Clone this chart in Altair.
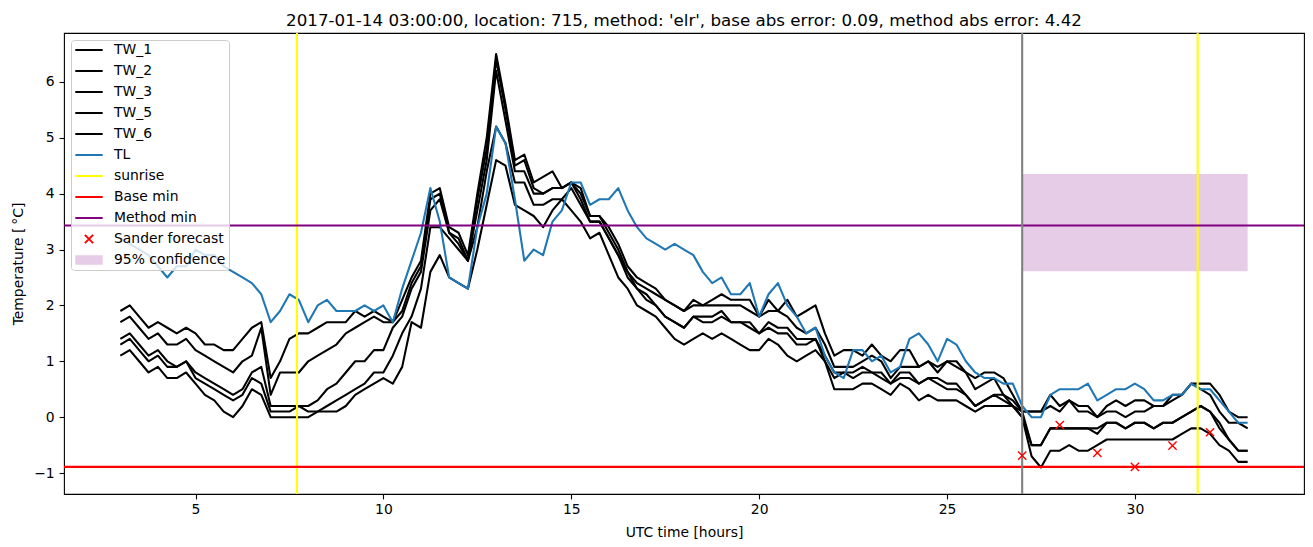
import altair as alt
import numpy as np
import pandas as pd

# ---------------- data ----------------
hours = [round(3.0 + 0.25 * i, 2) for i in range(121)]  # 3.00 ... 33.00 h, sampling grid

TW_1 = [1.9, 2.0, 1.8, 1.6, 1.7, 1.6, 1.5, 1.6, 1.5, 1.3, 1.3, 1.2,
        1.2, 1.4, 1.6, 1.7, 0.7, 1.0, 1.4, 1.5, 1.5, 1.6, 1.7, 1.7,
        1.7, 1.9, 1.8, 1.9, 1.8, 1.7, 2.1, 2.5, 2.8, 4.0, 4.1, 3.4,
        3.3, 2.9, 4.0, 5.0, 6.5, 5.6, 4.6, 4.7, 4.2, 4.3, 4.4, 4.1,
        4.2, 4.1, 3.6, 3.6, 3.4, 3.1, 2.7, 2.5, 2.4, 2.3, 2.1, 2.0,
        1.9, 2.1, 2.0, 2.1, 2.2, 2.1, 2.1, 2.1, 1.8, 2.1, 1.9, 2.1,
        1.8, 1.9, 2.0, 1.5, 1.1, 1.2, 1.2, 1.1, 1.3, 1.1, 1.0, 1.2,
        1.2, 0.9, 1.0, 0.9, 1.0, 1.0, 0.8, 0.7, 0.8, 0.8, 0.7, 0.4,
        0.1, 0.1, 0.1, 0.4, 0.2, 0.3, 0.2, 0.2, 0.0, 0.2, 0.3, 0.2,
        0.3, 0.3, 0.2, 0.2, 0.4, 0.4, 0.6, 0.6, 0.6, 0.4, 0.1, 0.0,
        0.0]
TW_2 = [1.7, 1.8, 1.6, 1.4, 1.5, 1.3, 1.3, 1.4, 1.2, 1.1, 1.0, 0.9,
        0.8, 1.0, 1.1, 1.6, 0.4, 0.8, 0.8, 0.8, 1.0, 1.1, 1.2, 1.3,
        1.5, 1.6, 1.7, 1.8, 1.7, 1.7, 1.9, 2.4, 2.7, 3.9, 4.0, 3.3,
        3.2, 2.8, 3.9, 4.8, 6.4, 5.5, 4.5, 4.6, 4.1, 4.0, 4.1, 4.1,
        4.2, 4.0, 3.6, 3.6, 3.3, 3.0, 2.6, 2.4, 2.3, 2.2, 2.1, 2.0,
        1.9, 2.0, 2.0, 2.0, 2.0, 2.0, 2.0, 1.9, 1.8, 1.9, 1.9, 1.8,
        1.6, 1.5, 1.6, 1.3, 0.9, 0.9, 0.9, 1.0, 1.1, 1.0, 0.7, 0.9,
        0.9, 0.9, 1.0, 0.8, 1.0, 0.9, 0.8, 0.5, 0.6, 0.7, 0.4, 0.3,
        0.1, 0.1, 0.1, 0.2, 0.1, 0.3, 0.1, 0.1, 0.0, 0.1, 0.1, 0.0,
        0.1, 0.1, 0.2, 0.2, 0.3, 0.4, 0.6, 0.5, 0.4, 0.1, -0.1, -0.1,
        -0.2]
TW_3 = [1.4, 1.5, 1.3, 1.1, 1.2, 1.0, 0.9, 1.0, 0.8, 0.7, 0.6, 0.5,
        0.4, 0.5, 0.8, 0.9, 0.2, 0.2, 0.2, 0.2, 0.2, 0.3, 0.5, 0.6,
        0.8, 1.0, 1.0, 1.2, 1.2, 1.6, 1.8, 2.3, 2.6, 3.7, 3.9, 3.3,
        3.1, 2.8, 3.7, 4.6, 6.2, 5.3, 4.4, 4.4, 4.0, 4.0, 4.1, 4.1,
        4.2, 3.9, 3.5, 3.5, 3.2, 2.9, 2.6, 2.3, 2.2, 2.0, 1.8, 1.7,
        1.6, 1.8, 1.8, 1.8, 1.9, 1.7, 1.7, 1.7, 1.5, 1.7, 1.6, 1.6,
        1.4, 1.4, 1.4, 1.1, 0.8, 0.8, 0.8, 0.9, 0.8, 0.8, 0.6, 0.8,
        0.8, 0.6, 0.7, 0.7, 0.6, 0.6, 0.4, 0.2, 0.3, 0.4, 0.4, 0.2,
        0.1, -0.5, -0.5, -0.2, -0.2, -0.2, -0.2, -0.2, -0.2, -0.1, -0.1, -0.2,
        -0.1, -0.1, -0.2, -0.1, -0.1, 0.0, 0.1, 0.2, 0.1, -0.1, -0.4, -0.6,
        -0.6]
TW_5 = [1.3, 1.4, 1.2, 1.0, 1.1, 0.9, 0.9, 1.0, 0.7, 0.6, 0.5, 0.4,
        0.3, 0.4, 0.7, 0.6, 0.1, 0.1, 0.1, 0.2, 0.1, 0.1, 0.2, 0.3,
        0.4, 0.5, 0.6, 0.8, 0.8, 1.1, 1.5, 1.8, 2.3, 3.4, 3.4, 3.2,
        3.0, 2.8, 3.4, 4.4, 5.2, 4.9, 4.2, 4.2, 3.8, 3.8, 3.9, 3.9,
        4.1, 3.8, 3.5, 3.5, 3.2, 2.9, 2.5, 2.3, 2.1, 2.0, 1.8, 1.7,
        1.6, 1.8, 1.7, 1.7, 1.8, 1.7, 1.7, 1.6, 1.5, 1.6, 1.5, 1.5,
        1.3, 1.3, 1.4, 1.0, 0.7, 0.8, 0.7, 0.8, 0.8, 0.7, 0.6, 0.7,
        0.7, 0.6, 0.7, 0.6, 0.5, 0.5, 0.4, 0.2, 0.3, 0.4, 0.3, 0.2,
        0.0, -0.5, -0.5, -0.2, -0.2, -0.2, -0.2, -0.2, -0.3, -0.1, -0.1, -0.2,
        -0.1, -0.1, -0.2, -0.1, -0.1, 0.0, 0.1, 0.2, 0.1, -0.2, -0.4, -0.6,
        -0.6]
TW_6 = [1.1, 1.2, 1.0, 0.8, 0.9, 0.7, 0.7, 0.8, 0.6, 0.4, 0.3, 0.1,
        0.0, 0.2, 0.5, 0.4, 0.0, 0.0, 0.0, 0.0, 0.0, 0.1, 0.1, 0.1,
        0.2, 0.4, 0.5, 0.6, 0.7, 0.6, 0.9, 1.7, 1.6, 2.6, 2.9, 2.5,
        2.4, 2.3, 3.0, 3.8, 4.6, 4.5, 3.8, 3.7, 3.6, 3.4, 3.7, 3.9,
        3.7, 3.5, 3.2, 3.3, 2.9, 2.5, 2.3, 2.0, 1.9, 1.8, 1.6, 1.4,
        1.3, 1.4, 1.5, 1.4, 1.5, 1.4, 1.3, 1.2, 1.2, 1.4, 1.3, 1.1,
        1.0, 1.1, 1.2, 1.0, 0.5, 0.5, 0.5, 0.6, 0.6, 0.5, 0.4, 0.6,
        0.5, 0.3, 0.4, 0.3, 0.3, 0.3, 0.2, 0.1, 0.2, 0.2, 0.2, 0.2,
        0.0, -0.7, -0.9, -0.6, -0.6, -0.5, -0.6, -0.6, -0.5, -0.4, -0.4, -0.4,
        -0.4, -0.4, -0.4, -0.4, -0.4, -0.3, -0.2, -0.2, -0.3, -0.5, -0.6, -0.8,
        -0.8]
TL = [3.2, 3.1, 3.0, 2.9, 2.7, 2.5, 2.7, 2.7, 3.0, 2.9, 2.9, 2.7,
      2.6, 2.5, 2.4, 2.2, 1.7, 1.9, 2.2, 2.1, 1.7, 2.0, 2.1, 1.9,
      1.9, 1.9, 2.0, 1.9, 2.0, 1.7, 2.3, 2.8, 3.3, 4.1, 3.5, 2.5,
      2.4, 2.3, 3.4, 4.0, 5.2, 4.9, 3.9, 2.8, 3.0, 2.9, 3.5, 3.7,
      4.2, 4.2, 3.8, 3.9, 3.9, 4.1, 3.7, 3.4, 3.2, 3.1, 3.0, 3.1,
      3.0, 2.9, 2.6, 2.4, 2.5, 2.2, 2.2, 2.4, 1.8, 2.2, 2.4, 2.0,
      1.8, 1.5, 1.6, 1.1, 0.8, 0.7, 1.2, 1.2, 1.0, 1.1, 0.8, 0.9,
      1.4, 1.5, 1.3, 1.0, 1.4, 1.3, 1.0, 0.8, 0.7, 0.7, 0.6, 0.6,
      0.2, 0.0, 0.0, 0.4, 0.5, 0.5, 0.5, 0.6, 0.3, 0.4, 0.5, 0.5,
      0.6, 0.5, 0.3, 0.3, 0.4, 0.4, 0.6, 0.5, 0.5, 0.3, 0.1, -0.1,
      -0.1]

sunrise_hours = [7.70, 31.67]
base_min = [-0.89]
method_min = [3.43]
forecast_start = [27.0]
sander_hours = [27, 28, 29, 30, 31, 32]
sander_values = [-0.69, -0.14, -0.64, -0.89, -0.51, -0.27]
conf_x = [27.0, 33.0]
conf_y = [2.61, 4.35]

x_ticks = [5, 10, 15, 20, 25, 30]
y_ticks = [-1, 0, 1, 2, 3, 4, 5, 6]

names = ["TW_1", "TW_2", "TW_3", "TW_5", "TW_6", "TL", "sunrise",
         "Base min", "Method min", "Sander forecast", "95% confidence"]
stroke_colors = ["black"] * 5 + ["#1f77b4", "yellow", "red", "purple", "red", "#e6cce6"]
X_PATH = "M-0.3,-0.3L0.3,0.3M-0.3,0.3L0.3,-0.3"
PATCH_PATH = "M-1,-0.28H1M-1,-0.14H1M-1,0H1M-1,0.14H1M-1,0.28H1"
shapes = ["stroke"] * 9 + [X_PATH, PATCH_PATH]

# ---------------- tables ----------------
series = {"TW_1": TW_1, "TW_2": TW_2, "TW_3": TW_3, "TW_5": TW_5, "TW_6": TW_6, "TL": TL}
lines_df = pd.DataFrame([
    {"series": k, "t": h, "v": v}
    for k, vals in series.items() for h, v in zip(hours, vals)
])
sun_df = pd.DataFrame({"t": sunrise_hours, "series": "sunrise"})
hr_df = pd.DataFrame({"v": base_min + method_min, "series": ["Base min", "Method min"]})
gray_df = pd.DataFrame({"t": forecast_start})
sander_df = pd.DataFrame({"t": sander_hours, "v": sander_values, "series": "Sander forecast"})
conf_df = pd.DataFrame({"x1": [conf_x[0]], "x2": [conf_x[1]], "y1": [conf_y[0]], "y2": [conf_y[1]]})

# ---------------- scales / axes ----------------
FONT = "DejaVu Sans"
xs = alt.Scale(domain=[1.5, 34.5], nice=False, zero=False)
ys = alt.Scale(domain=[-1.375, 6.875], nice=False, zero=False)
xaxis = alt.Axis(values=x_ticks, title="UTC time [hours]", labelPadding=4,
                 titleY=38, titleBaseline="middle")
yaxis = alt.Axis(values=y_ticks, title="Temperature [\u2009°C]", labelPadding=4.9,
                 labelBaseline="middle", labelExpr="replace(datum.label, '-', '\u2212')",
                 titleX=-45.7, titleY=230.5, titleAngle=270, titleAlign="center",
                 titleBaseline="middle")
stroke_scale = alt.Scale(domain=names, range=stroke_colors)
shape_scale = alt.Scale(domain=names, range=shapes)
stroke_enc = alt.Stroke("series:N", scale=stroke_scale, legend=alt.Legend(title=None))

LW = 2.08

rect = alt.Chart(conf_df).mark_rect(color="#e6cce6").encode(
    x=alt.X("x1:Q", scale=xs, axis=xaxis), x2="x2:Q",
    y=alt.Y("y1:Q", scale=ys, axis=yaxis), y2="y2:Q")

lines = alt.Chart(lines_df).mark_line(strokeWidth=LW, strokeJoin="round").encode(
    x=alt.X("t:Q", scale=xs, axis=xaxis),
    y=alt.Y("v:Q", scale=ys, axis=yaxis),
    stroke=stroke_enc,
    detail="series:N")

sun = alt.Chart(sun_df).mark_rule(strokeWidth=LW).encode(
    x=alt.X("t:Q", scale=xs, axis=xaxis), stroke=stroke_enc)

hrules = alt.Chart(hr_df).mark_rule(strokeWidth=LW).encode(
    y=alt.Y("v:Q", scale=ys, axis=yaxis), stroke=stroke_enc)

gray = alt.Chart(gray_df).mark_rule(strokeWidth=LW, color="gray").encode(
    x=alt.X("t:Q", scale=xs, axis=xaxis))

pts = alt.Chart(sander_df).mark_point(size=750, strokeWidth=1.4, filled=False, opacity=1).encode(
    x=alt.X("t:Q", scale=xs, axis=xaxis),
    y=alt.Y("v:Q", scale=ys, axis=yaxis),
    stroke=stroke_enc,
    shape=alt.Shape("series:N", scale=shape_scale, legend=alt.Legend(title=None)))

title = alt.TitleParams(
    text="2017-01-14 03:00:00, location: 715, method: 'elr', base abs error: 0.09, method abs error: 4.42",
    font=FONT, fontSize=16.7, fontWeight="normal", color="black",
    anchor="middle", baseline="alphabetic", offset=8.3, dy=19.5)

chart = alt.layer(rect, lines, sun, hrules, gray, pts).properties(
    width=1240, height=461, title=title,
    padding={"left": 64, "top": 33, "right": 9, "bottom": 53},
    autosize=alt.AutoSizeParams(type="none"),
).configure_view(
    stroke="black", strokeWidth=1.1
).configure_axis(
    labelFont=FONT, titleFont=FONT, labelFontSize=13.9, titleFontSize=13.9,
    labelColor="black", titleColor="black", titleFontWeight="normal",
    tickColor="black", tickWidth=1.1, tickSize=4.9, grid=False, domain=False
).configure_legend(
    orient="top-left", offset=7, padding=3,
    fillColor="rgba(255,255,255,0.8)", strokeColor="#cccccc", strokeWidth=1,
    cornerRadius=3, labelFont=FONT, labelFontSize=13.9, labelColor="black",
    symbolSize=750, symbolStrokeWidth=2, clipHeight=14, rowPadding=7,
    labelOffset=10, symbolType="stroke"
)

chart.save("out.html", embed_options={"renderer": "svg", "actions": False})
